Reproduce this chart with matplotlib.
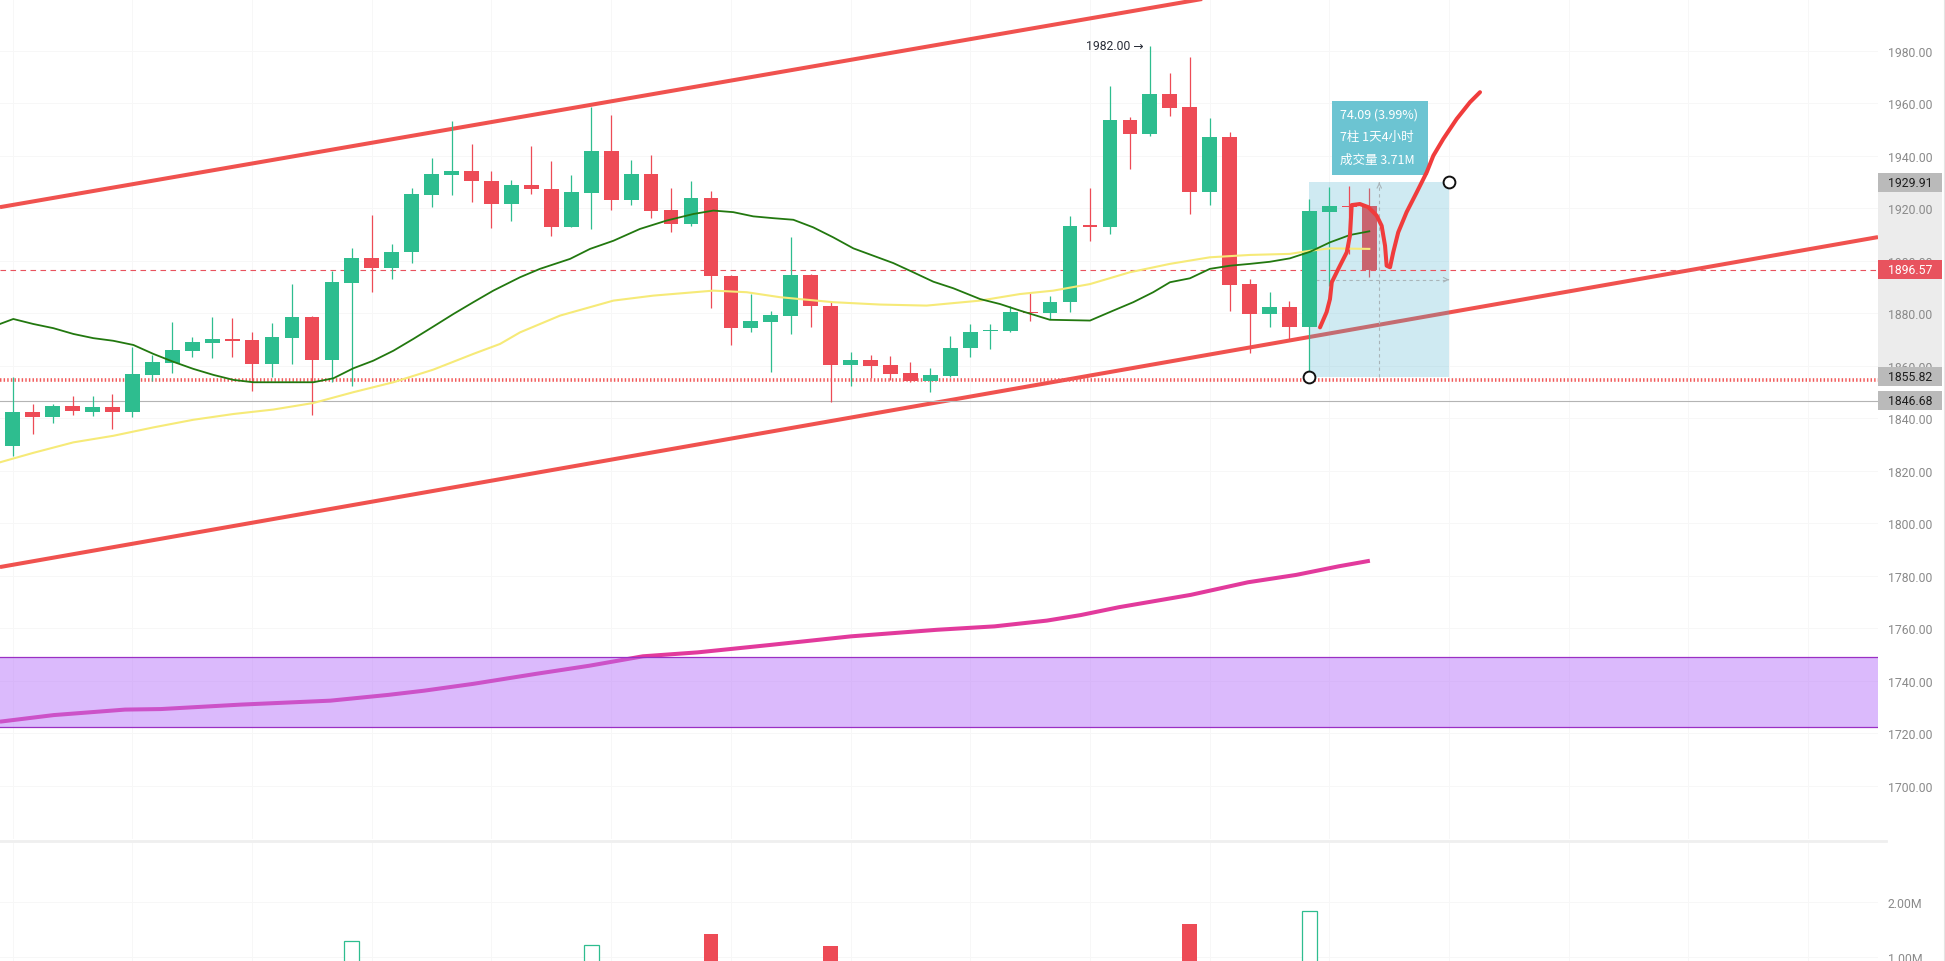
import matplotlib
matplotlib.use("Agg")
import matplotlib.pyplot as plt
from matplotlib.patches import Rectangle
from matplotlib.lines import Line2D
from matplotlib.transforms import blended_transform_factory
import numpy as np

plt.rcParams["font.family"] = ["Roboto", "DejaVu Sans"]
CJK = ["Noto Sans CJK SC", "DejaVu Sans"]

# ── 데이터 ────────────────────────────────────────────────────────────
bar_idx = list(range(-1, 69))
opens = [1838.0, 1829.7, 1842.4, 1840.5, 1844.6, 1842.6, 1844.3, 1842.6, 1856.6, 1861.1,
         1865.8, 1868.8, 1870.3, 1870.0, 1860.8, 1870.5, 1878.5, 1862.4, 1891.6, 1901.0,
         1897.2, 1903.3, 1925.1, 1932.8, 1934.4, 1930.6, 1921.7, 1929.0, 1927.4, 1912.8,
         1925.9, 1942.0, 1923.4, 1933.1, 1919.6, 1914.1, 1924.1, 1894.2, 1874.4, 1876.9,
         1879.2, 1894.7, 1883.0, 1860.4, 1862.3, 1860.4, 1857.3, 1854.4, 1856.3, 1866.7,
         1873.2, 1873.5, 1880.7, 1880.2, 1884.5, 1913.7, 1913.1, 1953.7, 1948.4, 1963.6,
         1958.8, 1926.4, 1947.4, 1891.2, 1879.8, 1882.3, 1874.8, 1918.8, 1921.1, 1920.9]
highs = [1841.0, 1855.7, 1845.5, 1845.5, 1848.7, 1848.5, 1849.3, 1867.1, 1864.2, 1876.9,
         1870.9, 1878.5, 1878.1, 1873.1, 1876.4, 1891.2, 1879.0, 1896.0, 1904.8, 1917.5,
         1906.5, 1927.7, 1939.1, 1953.5, 1944.6, 1934.2, 1930.9, 1943.7, 1938.2, 1932.8,
         1958.5, 1955.6, 1938.6, 1940.4, 1927.7, 1930.6, 1926.8, 1894.5, 1887.4, 1881.1,
         1909.0, 1895.0, 1884.9, 1865.5, 1864.2, 1863.7, 1861.7, 1859.1, 1871.3, 1876.0,
         1876.0, 1882.7, 1888.3, 1886.8, 1917.0, 1927.7, 1966.8, 1954.7, 1982.0, 1971.6,
         1977.6, 1954.4, 1949.3, 1893.1, 1888.3, 1884.9, 1923.6, 1928.1, 1928.5, 1927.7]
lows = [1828.0, 1825.6, 1834.1, 1838.3, 1841.3, 1841.1, 1836.0, 1840.5, 1854.4, 1857.3,
        1863.3, 1862.9, 1863.3, 1850.6, 1855.7, 1860.8, 1841.3, 1853.8, 1852.5, 1888.3,
        1893.1, 1899.2, 1920.5, 1925.1, 1922.6, 1912.5, 1915.4, 1925.5, 1909.4, 1912.8,
        1912.2, 1919.5, 1921.3, 1916.3, 1911.2, 1913.2, 1882.0, 1868.0, 1872.8, 1857.8,
        1872.2, 1874.8, 1846.2, 1852.3, 1855.3, 1854.8, 1854.0, 1850.2, 1855.7, 1863.3,
        1866.5, 1872.8, 1877.3, 1877.9, 1880.4, 1907.8, 1910.3, 1935.0, 1947.7, 1955.4,
        1917.9, 1921.3, 1881.1, 1864.9, 1874.8, 1870.3, 1855.82, 1890.6, 1902.7, 1893.8]
closes = [1830.0, 1842.4, 1840.5, 1844.6, 1843.0, 1844.3, 1842.6, 1857.0, 1861.7, 1866.2,
          1869.3, 1870.3, 1869.7, 1860.8, 1870.9, 1878.5, 1862.4, 1892.1, 1901.0, 1897.2,
          1903.3, 1925.5, 1933.1, 1934.4, 1930.6, 1921.7, 1929.0, 1927.4, 1912.8, 1926.4,
          1942.0, 1923.4, 1933.1, 1919.2, 1914.1, 1924.1, 1894.2, 1874.4, 1877.3, 1879.4,
          1894.7, 1882.8, 1860.4, 1862.3, 1860.1, 1857.0, 1854.4, 1856.6, 1866.7, 1873.1,
          1873.8, 1880.7, 1880.2, 1884.5, 1913.2, 1912.8, 1953.7, 1948.4, 1963.6, 1958.3,
          1926.4, 1947.4, 1890.9, 1879.8, 1882.3, 1874.8, 1919.2, 1921.1, 1920.5, 1896.57]
# 거래량 (M) — 1M 이하는 화면 밖이라 대략치
volumes = [1.20, 0.55, 0.40, 0.35, 0.35, 0.30, 0.45, 0.80, 0.50, 0.60,
           0.45, 0.55, 0.40, 0.75, 0.60, 0.70, 0.85, 0.85, 1.29, 0.70,
           0.50, 0.80, 0.65, 0.70, 0.55, 0.60, 0.55, 0.60, 0.75, 0.60,
           1.22, 0.85, 0.60, 0.70, 0.50, 0.55, 1.42, 0.85, 0.45, 0.55,
           0.80, 0.60, 1.20, 0.45, 0.35, 0.40, 0.40, 0.35, 0.55, 0.50,
           0.40, 0.50, 0.45, 0.45, 0.85, 0.60, 0.90, 0.70, 0.85, 0.70,
           1.60, 0.85, 0.90, 0.75, 0.50, 0.55, 1.83, 0.70, 0.55, 0.80]

ma_fast_x = [-0.64, 0.03, 1.03, 2.04, 3.04, 4.04, 5.04, 6.05, 7.05, 8.05, 9.05, 10.06, 11.06,
             12.06, 15.07, 16.07, 17.07, 18.07, 19.08, 20.08, 21.08, 22.09, 23.09, 24.09,
             25.43, 26.43, 27.94, 28.94, 30.11, 31.44, 32.78, 34.12, 35.12, 36.12, 37.12,
             38.13, 39.13, 40.13, 41.13, 42.14, 43.14, 44.14, 45.14, 46.15, 47.15, 48.49,
             49.49, 50.49, 51.99, 54.0, 55.17, 56.17, 57.17, 58.01, 59.01, 60.01, 61.02,
             62.02, 63.02, 64.02, 65.03, 66.03, 67.03, 68.0]
ma_fast_y = [1876.0, 1877.9, 1876.0, 1874.4, 1872.2, 1870.6, 1869.6, 1868.0, 1864.6, 1861.6,
             1858.9, 1856.6, 1854.7, 1853.8, 1853.8, 1855.3, 1859.1, 1862.0, 1865.8, 1870.3,
             1875.0, 1879.8, 1884.3, 1888.7, 1893.8, 1897.0, 1900.8, 1904.6, 1907.7, 1912.2,
             1915.4, 1917.9, 1919.2, 1918.6, 1917.0, 1916.3, 1915.7, 1912.8, 1909.0, 1904.8,
             1902.0, 1899.2, 1895.7, 1892.1, 1889.6, 1885.5, 1883.6, 1881.1, 1877.6, 1877.3,
             1881.1, 1884.3, 1888.1, 1891.9, 1893.4, 1897.0, 1898.2, 1898.9, 1899.7, 1901.0,
             1903.5, 1907.1, 1909.9, 1911.3]
ma_slow_x = [-0.64, 1.03, 3.04, 5.04, 7.05, 9.05, 11.06, 13.06, 15.07, 17.07, 19.08, 21.08,
             23.09, 24.43, 25.43, 27.44, 30.11, 32.11, 35.12, 36.79, 38.46, 41.13, 43.47,
             45.81, 48.49, 50.49, 52.16, 54.0, 56.0, 58.01, 60.01, 62.02, 64.02, 65.03,
             66.03, 68.0]
ma_slow_y = [1823.3, 1826.9, 1830.9, 1833.4, 1836.6, 1839.5, 1841.7, 1843.4, 1845.9, 1850.0,
             1853.8, 1858.6, 1864.6, 1868.4, 1872.8, 1879.2, 1884.9, 1886.8, 1888.7, 1888.1,
             1886.2, 1884.3, 1883.4, 1883.0, 1884.9, 1887.4, 1888.7, 1891.2, 1895.7, 1898.9,
             1901.4, 1902.3, 1902.7, 1903.9, 1904.8, 1904.6]
ma_long_x = [-0.64, 2.05, 5.63, 7.42, 11.44, 15.92, 18.83, 20.62, 23.08, 26.22, 28.9, 31.59,
             34.34, 37.94, 42.02, 46.33, 49.21, 51.84, 53.53, 55.45, 59.05, 61.92, 64.33,
             66.48, 68.03]
ma_long_y = [1724.5, 1727.0, 1729.1, 1729.3, 1731.0, 1732.5, 1734.7, 1736.3, 1738.9, 1742.7,
             1745.8, 1749.4, 1750.9, 1753.7, 1757.0, 1759.5, 1760.8, 1763.0, 1765.1, 1768.1,
             1772.8, 1777.6, 1780.4, 1783.7, 1785.8]

# 손으로 그린 빨간 곡선
sketch_x = [65.53, 65.86, 66.03, 66.12, 66.45, 66.87, 67.03, 67.08, 67.12, 67.53, 67.95,
            68.37, 68.62, 68.79, 68.87, 69.04, 69.2, 69.45, 69.87, 70.38, 70.88, 71.21,
            71.71, 72.38, 73.05, 73.55]
sketch_y = [1874.7, 1880.5, 1885.5, 1891.9, 1897.0, 1903.3, 1909.6, 1916.0, 1921.3, 1921.7,
            1920.5, 1917.3, 1913.4, 1905.8, 1898.2, 1897.6, 1903.3, 1910.9, 1918.6, 1926.2,
            1933.8, 1940.1, 1946.5, 1954.1, 1960.5, 1964.3]

channel_top = ([-0.64, 60.0], [1920.5, 2000.3])
channel_bot = ([-0.64, 93.5], [1783.4, 1909.1])
zone = (1722.6, 1749.0)
last_price = 1896.57
dotted_level = 1854.6
gray_level = 1846.68
box_bars = (65, 72)
box_prices = (1855.82, 1929.91)
price_ticks = list(range(1700, 1981, 20))
vol_ticks = [1, 2]

# ── 색 ───────────────────────────────────────────────────────────────────────
UP, DN = "#2ebd8f", "#ed4b56"
CH_RED = "#f0524f"
TXT = "#8a8a8a"

W, H = 1945, 962
R_AX = 1878
fig = plt.figure(figsize=(W / 100, H / 100), dpi=100)
ax = fig.add_axes([0, 1 - 840 / H, R_AX / W, 840 / H])
vax = fig.add_axes([0, 0, R_AX / W, 118 / H])
for a in (ax, vax):
    for s in a.spines.values():
        s.set_visible(False)
    a.set_axisbelow(True)
    a.set_xlim(-0.637, 93.5)
    a.yaxis.tick_right()
    a.tick_params(axis="y", length=0, pad=7.2, labelsize=8.8, labelcolor=TXT)
    a.tick_params(axis="x", length=0, labelbottom=False)
    a.set_xticks(range(0, 94, 6))
    a.grid(True, color="#f7f7f7", lw=0.7)
ax.set_ylim(1679.8, 1999.8)
ax.set_yticks(price_ticks)
ax.set_yticklabels([f"{v:.2f}" for v in price_ticks])
vax.set_ylim(0.928, 3.06)
vax.set_yticks(vol_ticks)
vax.set_yticklabels([f"{v:.2f}M" for v in vol_ticks])

x = np.array(bar_idx)
o, h, l, c = map(np.array, (opens, highs, lows, closes))
up = c >= o
cols = np.where(up, UP, DN).astype(object)
cols[-1] = "#c9646f"

# 캔들
ax.vlines(x, l, h, colors=list(cols), lw=0.9, zorder=2.6)
body_lo = np.minimum(o, c)
body_h = np.maximum(np.abs(c - o), 0.45)
ax.bar(x, body_h, bottom=body_lo, width=0.74, color=list(cols), lw=0, zorder=2.7)

# 이동평균
ax.plot(ma_long_x, ma_long_y, color="#e23a9c", lw=2.9, solid_capstyle="butt", zorder=1)
ax.add_patch(Rectangle((-1, zone[0]), 100, zone[1] - zone[0], facecolor=(180/255, 110/255, 250/255),
                       alpha=0.47, edgecolor="none", zorder=1.5))
ax.axhline(zone[0], color="#9a2fc4", lw=0.9, zorder=1.6)
ax.axhline(zone[1], color="#9a2fc4", lw=0.9, zorder=1.6)
ax.plot(ma_slow_x, ma_slow_y, color="#f6ea78", lw=1.5, zorder=3)
ax.plot(ma_fast_x, ma_fast_y, color="#22780f", lw=1.3, zorder=3.1)

# 채널
ax.plot(*channel_top, color=CH_RED, lw=2.9, solid_capstyle="butt", zorder=2)
ax.plot(*channel_bot, color=CH_RED, lw=2.9, solid_capstyle="butt", zorder=2)

# 수평선
ax.axhline(last_price, color="#e8535e", lw=0.8, ls=(0, (5, 4)), zorder=2.4)
ax.axhline(dotted_level, color="#f25a5a", lw=2.6, ls=(0, (0.4, 0.6)), zorder=2.4)
ax.axhline(gray_level, color="#b4b4b4", lw=0.8, zorder=2.4)

# 측정 상자
b0, b1 = box_bars
p0, p1 = box_prices
ax.add_patch(Rectangle((b0, p0), b1 - b0, p1 - p0, facecolor="#4fb3cf", alpha=0.27,
                       edgecolor="none", zorder=2.2))
xm, ym = (b0 + b1) / 2, (p0 + p1) / 2
ax.plot([xm, xm], [p0, p1 - 0.6], color="#a9b4b8", lw=0.8, ls=(0, (3, 3)), zorder=2.3)
ax.plot([b0, b1 - 0.1], [ym, ym], color="#a9b4b8", lw=0.8, ls=(0, (3, 3)), zorder=2.3)
ax.annotate("", xy=(xm, p1), xytext=(xm, p1 - 0.3),
            arrowprops=dict(arrowstyle="->", color="#a9b4b8", lw=0.8, mutation_scale=8,
                            shrinkA=0, shrinkB=0), zorder=2.3)
ax.annotate("", xy=(b1, ym), xytext=(b1 - 0.05, ym),
            arrowprops=dict(arrowstyle="->", color="#a9b4b8", lw=0.8, mutation_scale=8,
                            shrinkA=0, shrinkB=0), zorder=2.3)
ax.add_patch(Rectangle((66.12, 1932.9), 4.81, 28.2, facecolor="#6cc4d2", edgecolor="none",
                       zorder=6))
diff = p1 - p0
for yy, s in [(1956.0, f"{diff:.2f} ({diff / p0 * 100:.2f}%)"),
              (1947.4, f"{b1 - b0}柱 1天4小时"),
              (1938.9, "成交量 3.71M")]:
    ax.text(66.55, yy, s, fontsize=9, color="white", family=CJK, va="center", ha="left",
            zorder=6.5)

# 손그림 곡선 · 원 핸들
ax.plot(sketch_x, sketch_y, color="#f03c3c", lw=2.9, solid_capstyle="round",
        solid_joinstyle="round", zorder=6)
ax.plot([b0, b1], [p0, p1], ls="none", marker="o", ms=8.5, mfc="white", mec="#111111",
        mew=1.4, zorder=7, clip_on=False)

# 최고가 표시
ax.text(57 - 0.3, max(highs), "1982.00 →", fontsize=8.8, color="#2a2e39", ha="right",
        va="center", zorder=5)

# 가격축 태그
tr = blended_transform_factory(ax.transAxes, ax.transData)
tag_w = 64 / R_AX
ax.add_patch(Rectangle((1.0, p0), tag_w, p1 - p0, transform=tr, facecolor="#ececec",
                       edgecolor="none", clip_on=False, zorder=0.3))


def tag(p, face, tcol):
    hh = 19 / 2.625
    ax.add_patch(Rectangle((1.0, p - hh / 2), tag_w, hh, transform=tr, facecolor=face,
                           edgecolor="none", clip_on=False, zorder=5))
    ax.text(1.0 + 10 / R_AX, p, f"{p:.2f}", transform=tr, fontsize=8.8, color=tcol,
            ha="left", va="center", zorder=6, clip_on=False)


tag(p1, "#bababa", "#1e1e1e")
tag(last_price, "#e8535e", "white")
tag(p0, "#bababa", "#1e1e1e")
tag(gray_level, "#bababa", "#1e1e1e")

# 거래량
vcols = np.where(up, UP, DN)
for xi, v, u, vc in zip(x, volumes, up, vcols):
    if u:
        vax.add_patch(Rectangle((xi - 0.37, 0), 0.74, v, facecolor="white", edgecolor=vc,
                                lw=0.9, zorder=2))
    else:
        vax.add_patch(Rectangle((xi - 0.37, 0), 0.74, v, facecolor=vc, edgecolor="none",
                                zorder=2))

# 구분선 · 테두리
fig.add_artist(Line2D([0, 1886 / W], [1 - 842 / H] * 2, color="#efefef", lw=2.0))
fig.add_artist(Line2D([1944 / W] * 2, [0, 1], color="#e4e4e4", lw=0.8))

fig.savefig("out.png", dpi=100, facecolor="white")
